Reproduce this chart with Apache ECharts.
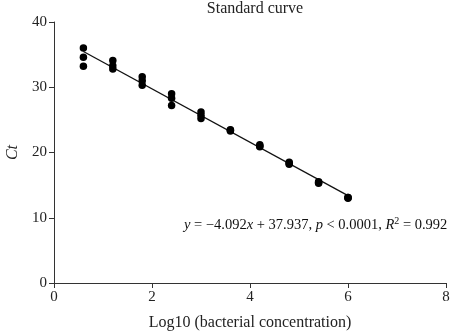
<!DOCTYPE html>
<html>
<head>
    <meta charset="utf-8">
    <title>Standard curve</title>
    <script src="https://cdn.jsdelivr.net/npm/echarts@6/dist/echarts.min.js"></script>
</head>
<body style="margin:0">
<div id="main" style="width: 450px;height:334px;"></div>
<script type="text/javascript">
    // log10 of concentration, three replicates each
    var logConc = [0.6, 1.2, 1.8, 2.4, 3.0, 3.6, 4.2, 4.8, 5.4, 6.0];
    var ctRep1 = [36.0, 34.1, 31.6, 29.0, 26.2, 23.5, 21.2, 18.5, 15.5, 13.1];
    var ctRep2 = [34.6, 33.3, 31.0, 28.3, 25.7, 23.3, 21.0, 18.3, 15.4, 13.1];
    var ctRep3 = [33.2, 32.8, 30.3, 27.2, 25.2, 23.4, 20.9, 18.2, 15.3, 13.0];
    // fit: y = -4.092x + 37.937
    var slope = -4.092, intercept = 37.937;
    var fitX = [0.6, 6.0];
    var xTicks = [0, 2, 4, 6, 8];
    var yTicks = [0, 10, 20, 30, 40];

    var font = 'Liberation Serif';
    var myChart = echarts.init(document.getElementById('main'));

    var points = [];
    [ctRep1, ctRep2, ctRep3].forEach(function (rep) {
        for (var i = 0; i < logConc.length; i++) {
            points.push([logConc[i], rep[i]]);
        }
    });
    var fitLine = fitX.map(function (x) { return [x, slope * x + intercept]; });

    var option = {
        animation: false,
        title: {
            text: 'Standard curve',
            left: 250,
            textAlign: 'center',
            top: -4,
            textStyle: {fontFamily: font, fontSize: 16, fontWeight: 'normal', color: '#222'}
        },
        grid: {left: 54, right: 4, top: 22, bottom: 51, containLabel: false, outerBoundsMode: 'none'},
        xAxis: {
            type: 'value',
            min: xTicks[0], max: xTicks[xTicks.length - 1], interval: 2,
            name: 'Log10 (bacterial concentration)',
            nameLocation: 'middle',
            nameGap: 32,
            nameTextStyle: {fontFamily: font, fontSize: 16, color: '#222'},
            axisLine: {lineStyle: {color: '#333', width: 1}},
            axisTick: {length: 5, lineStyle: {color: '#333'}},
            axisLabel: {fontFamily: font, fontSize: 15, color: '#222', margin: 7},
            splitLine: {show: false}
        },
        yAxis: {
            type: 'value',
            min: yTicks[0], max: yTicks[yTicks.length - 1], interval: 10,
            name: 'Ct',
            nameLocation: 'middle',
            nameGap: 33,
            nameTextStyle: {fontFamily: font, fontSize: 16, fontStyle: 'italic', color: '#222'},
            axisLine: {show: true, lineStyle: {color: '#333', width: 1}},
            axisTick: {show: true, length: 5, lineStyle: {color: '#333'}},
            axisLabel: {fontFamily: font, fontSize: 15, color: '#222', margin: 7},
            splitLine: {show: false}
        },
        graphic: [{
            type: 'text',
            left: 184,
            top: 216,
            style: {
                text: '{i|y} = \u22124.092{i|x} + 37.937, {i|p} < 0.0001, {i|R}{sup|2} = 0.992',
                fontFamily: font,
                fontSize: 14.5,
                fill: '#111',
                rich: {
                    i: {fontFamily: font, fontSize: 14.5, fontStyle: 'italic'},
                    sup: {fontFamily: font, fontSize: 10, padding: [0, 0, 8, 0]}
                }
            }
        }],
        series: [{
            type: 'line',
            data: fitLine,
            symbol: 'none',
            lineStyle: {color: '#111', width: 1.3},
            z: 1
        }, {
            type: 'scatter',
            data: points,
            symbolSize: 7.5,
            itemStyle: {color: '#000', opacity: 1},
            z: 2
        }]
    };

    myChart.setOption(option);
</script>
</body>
</html>
